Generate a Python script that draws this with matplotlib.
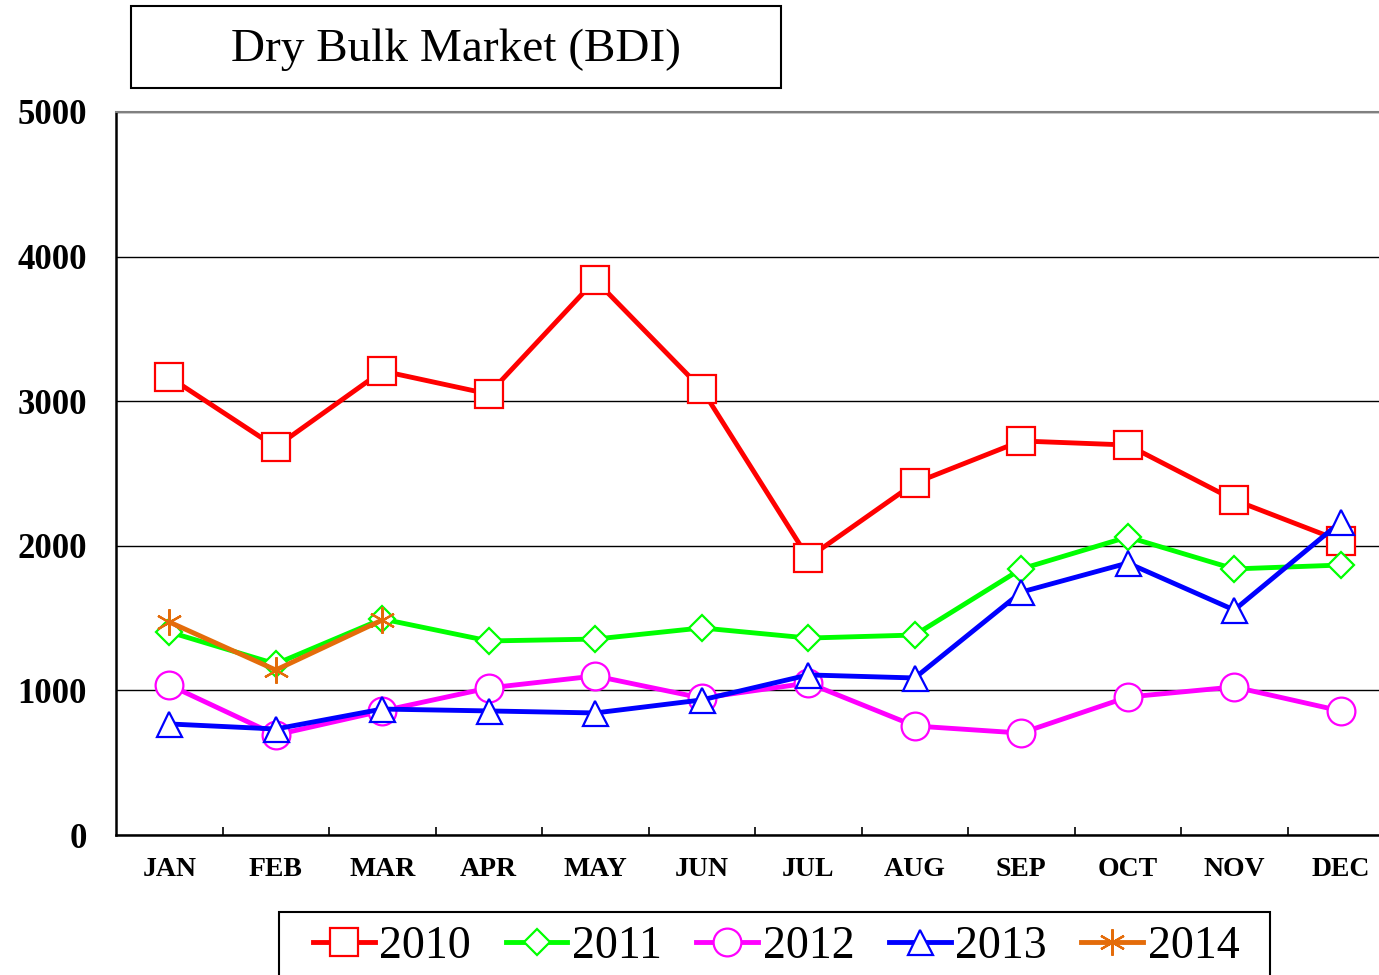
import matplotlib
matplotlib.use("Agg")
import matplotlib.pyplot as plt
import matplotlib.patches as mpatches
import numpy as np

months = ["JAN", "FEB", "MAR", "APR", "MAY", "JUN",
          "JUL", "AUG", "SEP", "OCT", "NOV", "DEC"]

bdi2010 = [3167, 2683, 3209, 3050, 3838, 3084, 1916, 2434, 2725, 2697, 2317, 2033]
bdi2011 = [1404, 1183, 1494, 1342, 1355, 1432, 1362, 1383, 1840, 2061, 1840, 1867]
bdi2012 = [1037, 692, 858, 1017, 1100, 947, 1051, 754, 705, 954, 1024, 858]
bdi2013 = [768, 733, 871, 858, 844, 934, 1107, 1086, 1680, 1881, 1556, 2165]
bdi2014 = [1473, 1141, 1487]

series = [("2010", bdi2010, "#FF0000", "s", 20),
          ("2011", bdi2011, "#00FF00", "D", 13),
          ("2012", bdi2012, "#FF00FF", "o", 20),
          ("2013", bdi2013, "#0000FF", "^", 18),
          ("2014", bdi2014, "#E46C0A", (6, 2, 0), 19)]

serif = ["Liberation Serif", "DejaVu Serif"]

W, H = 1379, 975
fig = plt.figure(figsize=(W / 100, H / 100), dpi=100)
ax = fig.add_axes([116 / W, 1 - 835 / H, (1394 - 116) / W, (835 - 112) / H])

x = np.arange(len(months))
handles = []
for name, vals, col, mk, ms in series:
    ln, = ax.plot(x[:len(vals)], vals, color=col, lw=3.5, marker=mk, ms=ms,
                  mfc="white", mec=col, mew=1.6, label=name)
    handles.append(ln)

ax.set_xlim(-0.5, 11.5)
ax.set_ylim(0, 5000)
ax.set_yticks(range(0, 5001, 1000))
ax.set_yticklabels([str(v) for v in range(0, 5001, 1000)],
                   fontfamily=serif, fontweight="bold", fontsize=25)
ax.set_xticks(x)
ax.set_xticklabels(months, fontfamily=serif, fontweight="bold", fontsize=20)
ax.set_xticks(np.arange(0.5, 11.5, 1), minor=True)
ax.tick_params(axis="y", length=0, pad=21)
ax.tick_params(axis="x", which="major", length=0, pad=16)
ax.tick_params(axis="x", which="minor", direction="in", length=6, width=1.2)
ax.grid(axis="y", color="black", lw=1)
ax.set_axisbelow(True)
for s in ["left", "bottom"]:
    ax.spines[s].set_linewidth(1.8)
ax.spines["top"].set_color("#808080")
ax.spines["top"].set_linewidth(1.5)

# title box
fig.patches.append(mpatches.Rectangle((131 / W, 1 - 88 / H), 650 / W, 82 / H,
                                      transform=fig.transFigure, fill=False,
                                      ec="black", lw=1.5))
fig.text(456 / W, 1 - 50 / H, "Dry Bulk Market (BDI)", ha="center", va="center",
         fontfamily=serif, fontsize=34)

# legend box
fig.patches.append(mpatches.Rectangle((279 / W, 1 - 990 / H), 991 / W, 78 / H,
                                      transform=fig.transFigure, fill=False,
                                      ec="black", lw=1.5))
fig.legend(handles=handles, loc="center left", ncol=5,
           bbox_to_anchor=(313 / W, 1 - 947 / H), frameon=False,
           prop={"family": serif, "size": 33}, handlelength=1.35,
           handletextpad=0.1, columnspacing=0.75, borderpad=0, borderaxespad=0,
           markerscale=1.0)

fig.savefig("out.png", dpi=100)
